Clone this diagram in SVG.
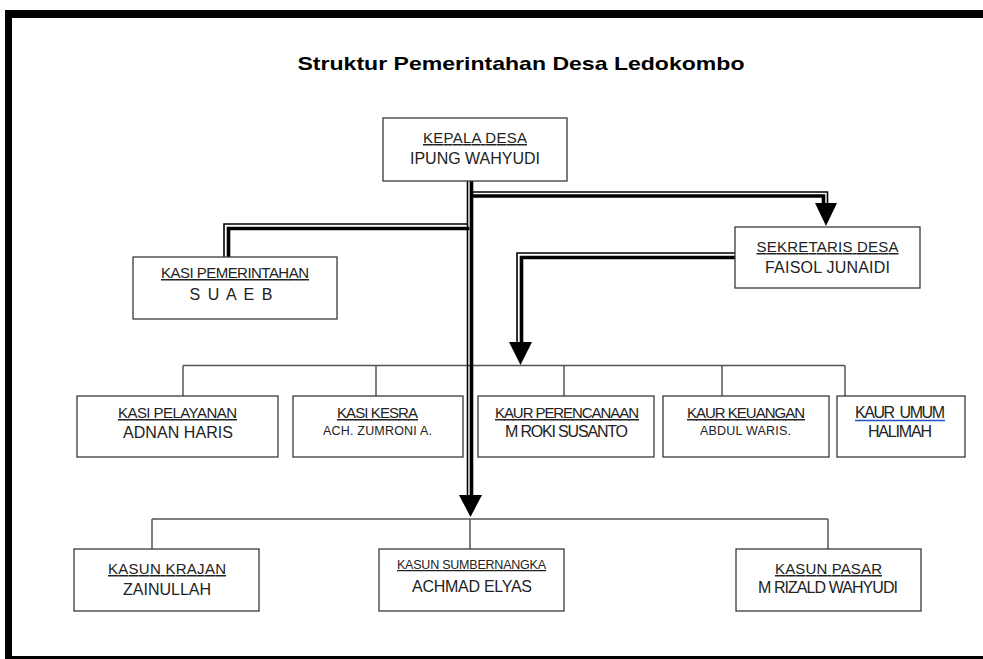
<svg xmlns="http://www.w3.org/2000/svg" width="983" height="659" viewBox="0 0 983 659">
<style>
.box{fill:#fff;stroke:#3a3a3a;stroke-width:1.3}
.t{font-family:"Liberation Sans",Arial,sans-serif;font-size:15px;fill:#222;text-anchor:middle;text-decoration:underline}
.n{font-family:"Liberation Sans",Arial,sans-serif;font-size:16px;fill:#222;text-anchor:middle}
.s{font-family:"Liberation Sans",Arial,sans-serif;font-size:12.5px;fill:#222;text-anchor:middle}
.thin{fill:none;stroke:#000;stroke-width:1.6}
.thick{fill:none;stroke:#000;stroke-width:3.6}
.bus{fill:none;stroke:#555;stroke-width:1.5}
.head{fill:#000}
</style>
<rect x="0" y="0" width="983" height="659" fill="#fff"/>
<g id="frame" fill="#000">
<rect x="5" y="10" width="978" height="8"/>
<rect x="5" y="10" width="7" height="649"/>
<rect x="5" y="656" width="978" height="3"/>
</g>
<text x="521" y="70" font-family="'Liberation Sans',Arial,sans-serif" font-size="18.5" font-weight="bold" fill="#000" text-anchor="middle" textLength="447" lengthAdjust="spacingAndGlyphs">Struktur Pemerintahan Desa Ledokombo</text>

<g id="connectors">
<path class="bus" d="M183 365.5H845M183 365.5V396M376 365.5V396M564 365.5V396M722 365.5V396M845 365.5V396"/>
<path class="bus" d="M152 519H828M152 519V549M470 519V549M828 519V549"/>
<path class="thin" d="M467.5 181V497"/>
<path class="thick" d="M471.5 181V497"/>
<path class="thin" d="M473 192H827.5V204"/>
<path class="thick" d="M473 196H823.5V204"/>
<path class="thin" d="M468 224H224V257"/>
<path class="thick" d="M469.5 228.5H228.5V257"/>
<path class="thin" d="M735 253H517V343"/>
<path class="thick" d="M735 257.5H521.5V343"/>
<polygon class="head" points="459,495 482,495 470.5,517"/>
<polygon class="head" points="815,203 837,203 826,226"/>
<polygon class="head" points="509,342 532,342 520.5,365"/>
</g>

<g id="kepala-desa">
<rect class="box" x="383" y="118" width="184" height="63"/>
<text class="t" x="475" y="143" textLength="104">KEPALA DESA</text>
<text class="n" x="475" y="164" textLength="130">IPUNG WAHYUDI</text>
</g>
<g id="sekretaris-desa">
<rect class="box" x="735" y="227" width="185" height="61"/>
<text class="t" x="827.5" y="252" textLength="142">SEKRETARIS DESA</text>
<text class="n" x="827.5" y="273" textLength="125">FAISOL JUNAIDI</text>
</g>
<g id="kasi-pemerintahan">
<rect class="box" x="133" y="257" width="204" height="62"/>
<text class="t" x="235" y="278" textLength="148">KASI PEMERINTAHAN</text>
<text class="n" x="231" y="300" textLength="83">S U A E B</text>
</g>
<g id="kasi-pelayanan">
<rect class="box" x="77" y="396" width="201" height="61"/>
<text class="t" x="177.5" y="418" textLength="119">KASI PELAYANAN</text>
<text class="n" x="178" y="438" textLength="110">ADNAN HARIS</text>
</g>
<g id="kasi-kesra">
<rect class="box" x="293" y="396" width="170" height="61"/>
<text class="t" x="377.5" y="418" textLength="81">KASI KESRA</text>
<text class="s" x="377.5" y="435" textLength="109">ACH. ZUMRONI A.</text>
</g>
<g id="kaur-perencanaan">
<rect class="box" x="478" y="396" width="176" height="61"/>
<text class="t" x="567" y="418" textLength="144">KAUR PERENCANAAN</text>
<text class="n" x="566.5" y="437" font-size="15" textLength="123">M ROKI SUSANTO</text>
</g>
<g id="kaur-keuangan">
<rect class="box" x="663" y="396" width="166" height="61"/>
<text class="t" x="746" y="418" textLength="118">KAUR KEUANGAN</text>
<text class="s" x="745.5" y="435" textLength="91">ABDUL WARIS.</text>
</g>
<g id="kaur-umum">
<rect class="box" x="837" y="396" width="128" height="61"/>
<text class="n" x="900" y="418" font-size="15" textLength="90" xml:space="preserve">KAUR  UMUM</text>
<line x1="855" y1="420.5" x2="945" y2="420.5" stroke="#1f4fc8" stroke-width="1.3"/>
<text class="n" x="900" y="437" textLength="64">HALIMAH</text>
</g>
<g id="kasun-krajan">
<rect class="box" x="74" y="549" width="185" height="62"/>
<text class="t" x="167" y="574" textLength="118">KASUN KRAJAN</text>
<text class="n" x="167" y="595" textLength="88">ZAINULLAH</text>
</g>
<g id="kasun-sumbernangka">
<rect class="box" x="379" y="549" width="185" height="62"/>
<text class="s" x="471.5" y="569" textLength="149" text-decoration="underline">KASUN SUMBERNANGKA</text>
<text class="n" x="472" y="592" textLength="120">ACHMAD ELYAS</text>
</g>
<g id="kasun-pasar">
<rect class="box" x="736" y="549" width="185" height="62"/>
<text class="t" x="828.5" y="574" textLength="107">KASUN PASAR</text>
<text class="n" x="828" y="593" font-size="15" textLength="140">M RIZALD WAHYUDI</text>
</g>
</svg>
